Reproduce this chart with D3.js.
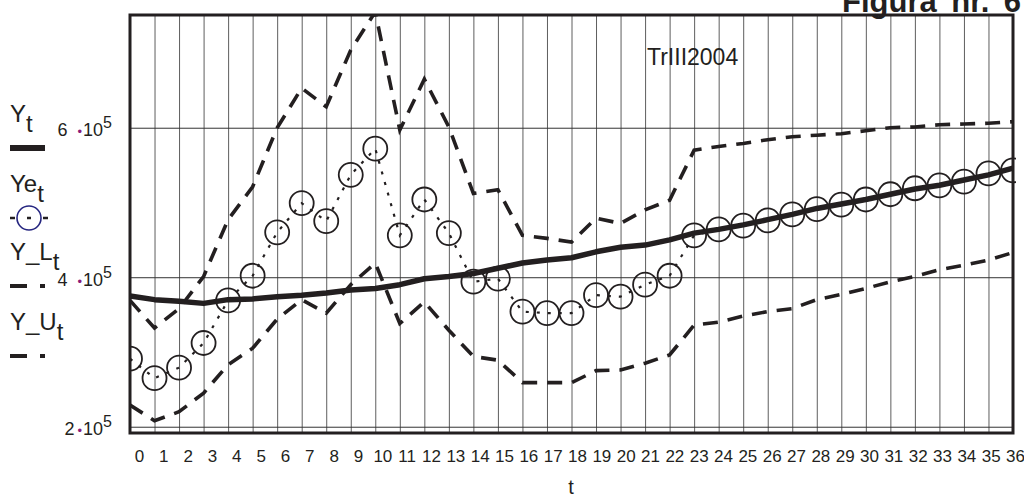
<!DOCTYPE html>
<html>
<head>
<meta charset="utf-8">
<script src="https://cdn.jsdelivr.net/npm/d3@7"></script>
<style>
body { margin: 0; background: #fff; }
svg { display: block; font-family: "Liberation Sans", Arial, sans-serif; }
</style>
</head>
<body>
<div id="chart-area"></div>
<script>
// data
var tValues = [0,1,2,3,4,5,6,7,8,9,10,11,12,13,14,15,16,17,18,19,20,21,22,23,24,25,26,27,28,29,30,31,32,33,34,35,36];

var yT = [375000,370000,368000,365000,370000,371000,374000,376000,379000,383000,385000,390000,398000,401000,405000,412000,419000,423000,426000,434000,440000,443000,450000,459000,464000,470000,477000,484000,492000,498000,504000,511000,518000,523000,530000,537000,546000];

var yE = [291000,265000,279000,312000,369000,402000,460000,499000,475000,537000,572000,456000,504000,459000,394000,398000,354000,352000,352000,376000,374000,390000,402000,456000,464000,469000,476000,484000,491000,497000,504000,511000,519000,523000,528000,539000,543000];

var yLow = [229000,208000,220000,245000,283000,305000,344000,370000,352000,390000,419000,338000,367000,329000,294000,289000,259000,259000,259000,275000,276000,285000,296000,336000,340000,348000,354000,358000,370000,377000,385000,394000,401000,410000,416000,423000,433000];

var yUp = [369000,332000,358000,401000,477000,521000,600000,653000,628000,704000,755000,597000,665000,601000,512000,517000,456000,452000,447000,479000,472000,490000,503000,570000,575000,579000,584000,588000,590000,592000,596000,600000,601000,604000,605000,606000,608000];

var yTicks = [200000, 400000, 600000];
var yTickMant = ['2', '4', '6'];
var yTickGap = [3, 10, 10]; // "2•10" is written tight, the others with a space

var ink = '#231f20';

var svg = d3.select('#chart-area').append('svg')
    .attr('width', 1024)
    .attr('height', 497);

var pLeft = 130, pRight = 1013, pTop = 15, pBottom = 433;

var x = d3.scaleLinear().domain([0, 36]).range([pLeft, pRight]);
var xLab = d3.scaleLinear().domain([0, 36]).range([139, 1015]); // labels drift a bit to the right
var y = d3.scaleLinear().domain([191600, 750800]).range([pBottom, pTop]);

// grid
var gx = svg.append('g')
    .attr('transform', 'translate(0,' + pBottom + ')')
    .call(d3.axisBottom(x).tickValues(tValues).tickSize(-(pBottom - pTop)).tickFormat(''));
gx.select('.domain').remove();
gx.selectAll('line').attr('stroke', '#5e5e5e').attr('stroke-width', 1);

var gy = svg.append('g')
    .attr('transform', 'translate(' + pLeft + ',0)')
    .call(d3.axisLeft(y).tickValues(yTicks).tickSize(-(pRight - pLeft)).tickFormat(''));
gy.select('.domain').remove();
gy.selectAll('line').attr('stroke', '#333').attr('stroke-width', 1);

// x labels
var gl = svg.append('g')
    .attr('transform', 'translate(0,' + pBottom + ')')
    .call(d3.axisBottom(xLab).tickValues(tValues).tickSize(0));
gl.select('.domain').remove();
gl.selectAll('text')
    .attr('y', 28.5)
    .attr('dy', 0)
    .attr('fill', ink)
    .style('font-size', '17px')
    .style('font-family', '"Liberation Sans", Arial, sans-serif');

svg.append('text')
    .attr('x', 571)
    .attr('y', 494)
    .attr('text-anchor', 'middle')
    .attr('fill', ink)
    .style('font-size', '20px')
    .text('t');

// y labels  n•10^5
yTicks.forEach(function(v, i) {
    var tx = svg.append('text')
        .attr('x', 112)
        .attr('y', y(v) + 8.5)
        .attr('text-anchor', 'end')
        .attr('fill', ink)
        .style('font-size', '18px');
    tx.append('tspan').text(yTickMant[i]);
    tx.append('tspan').attr('dx', yTickGap[i]).attr('fill', '#8a1a7a').style('font-size', '13px').text('\u2022');
    tx.append('tspan').attr('dx', 1).text('10');
    tx.append('tspan').attr('dy', -8).style('font-size', '16px').text('5');
});

// clip to plot
svg.append('clipPath').attr('id', 'plot-clip')
    .append('rect')
    .attr('x', pLeft).attr('y', pTop)
    .attr('width', pRight - pLeft + 3).attr('height', pBottom - pTop);

var plot = svg.append('g').attr('clip-path', 'url(#plot-clip)');

var line = d3.line()
    .x(function(d, i) { return x(tValues[i]); })
    .y(function(d) { return y(d); });

plot.append('path')
    .attr('d', line(yUp))
    .attr('fill', 'none')
    .attr('stroke', ink)
    .attr('stroke-width', 3.6)
    .attr('stroke-dasharray', '15,10');

plot.append('path')
    .attr('d', line(yLow))
    .attr('fill', 'none')
    .attr('stroke', ink)
    .attr('stroke-width', 3.6)
    .attr('stroke-dasharray', '15,10');

plot.append('path')
    .attr('d', line(yE))
    .attr('fill', 'none')
    .attr('stroke', ink)
    .attr('stroke-width', 2.2)
    .attr('stroke-dasharray', '3,8');

plot.selectAll('circle.ye')
    .data(yE)
    .enter()
    .append('circle')
        .attr('class', 'ye')
        .attr('cx', function(d, i) { return x(tValues[i]); })
        .attr('cy', function(d) { return y(d); })
        .attr('r', 12)
        .attr('fill', 'none')
        .attr('stroke', ink)
        .attr('stroke-width', 1.8);

plot.append('path')
    .attr('d', line(yT))
    .attr('fill', 'none')
    .attr('stroke', ink)
    .attr('stroke-width', 5.5)
    .attr('stroke-linejoin', 'round');

// frame
svg.append('rect')
    .attr('x', pLeft).attr('y', pTop)
    .attr('width', pRight - pLeft).attr('height', pBottom - pTop)
    .attr('fill', 'none')
    .attr('stroke', ink)
    .attr('stroke-width', 3);

// annotation
svg.append('text')
    .attr('x', 647)
    .attr('y', 65)
    .attr('fill', ink)
    .style('font-size', '23px')
    .text('TrIII2004');

svg.append('text')
    .attr('x', 842)
    .attr('y', 12)
    .attr('fill', ink)
    .style('font-size', '31px')
    .style('font-weight', 'bold')
    .style('word-spacing', '6px')
    .text('Figura nr. 6');

// legend
var legNames = ['Y', 'Ye', 'Y_L', 'Y_U'];
var legBase = [122, 192, 260, 330];

legNames.forEach(function(n, i) {
    var tx = svg.append('text')
        .attr('x', 10)
        .attr('y', legBase[i])
        .attr('fill', ink)
        .style('font-size', '24px');
    tx.append('tspan').text(n);
    tx.append('tspan').attr('dy', 10).text('t');

    var sy = legBase[i] + 26;
    if (i === 0) {
        svg.append('line')
            .attr('x1', 10).attr('x2', 45).attr('y1', sy).attr('y2', sy)
            .attr('stroke', ink).attr('stroke-width', 6);
    } else if (i === 1) {
        svg.append('line')
            .attr('x1', 10).attr('x2', 48).attr('y1', sy).attr('y2', sy)
            .attr('stroke', ink).attr('stroke-width', 2.5)
            .attr('stroke-dasharray', '5,12,4,12,5');
        svg.append('circle')
            .attr('cx', 29).attr('cy', sy).attr('r', 12)
            .attr('fill', 'none').attr('stroke', '#262680').attr('stroke-width', 1.6);
    } else {
        svg.append('line')
            .attr('x1', 10).attr('x2', 45).attr('y1', sy).attr('y2', sy)
            .attr('stroke', ink).attr('stroke-width', 4)
            .attr('stroke-dasharray', '17,13');
    }
});
</script>
</body>
</html>
